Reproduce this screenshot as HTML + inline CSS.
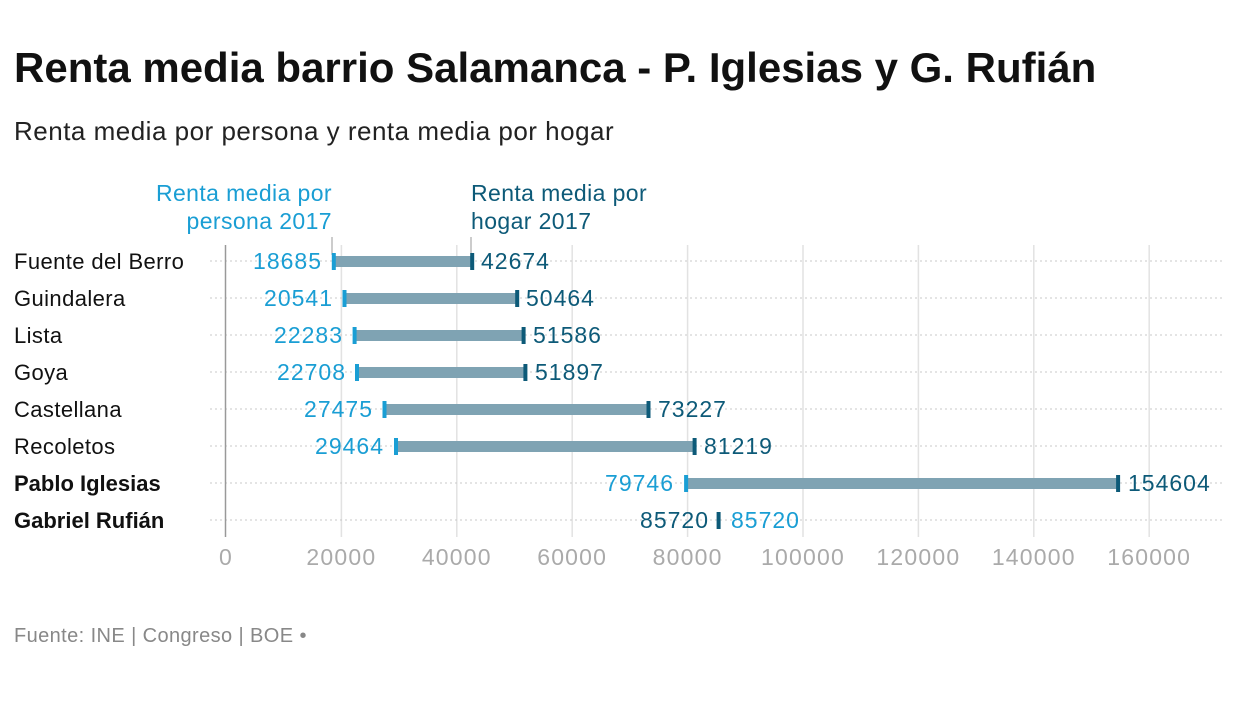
<!DOCTYPE html>
<html><head><meta charset="utf-8"><style>
body{margin:0;background:#fff;width:1248px;height:698px;overflow:hidden;font-family:"Liberation Sans",sans-serif}
</style></head><body>
<svg width="1248" height="698" xmlns="http://www.w3.org/2000/svg" font-family="Liberation Sans, sans-serif">
<text x="14" y="82" font-size="42" font-weight="bold" fill="#111">Renta media barrio Salamanca - P. Iglesias y G. Rufián</text>
<text x="14" y="140" font-size="26" fill="#222" letter-spacing="0.5">Renta media por persona y renta media por hogar</text>
<g stroke="#e2e2e2" stroke-width="1.5">
<line x1="341.4" y1="245" x2="341.4" y2="537"/><line x1="456.8" y1="245" x2="456.8" y2="537"/>
<line x1="572.2" y1="245" x2="572.2" y2="537"/><line x1="687.6" y1="245" x2="687.6" y2="537"/>
<line x1="803" y1="245" x2="803" y2="537"/><line x1="918.4" y1="245" x2="918.4" y2="537"/>
<line x1="1033.8" y1="245" x2="1033.8" y2="537"/><line x1="1149.2" y1="245" x2="1149.2" y2="537"/>
</g>
<g stroke="#c8c8c8" stroke-width="1" stroke-dasharray="2,3">
<line x1="210" y1="261" x2="1225" y2="261"/><line x1="210" y1="298" x2="1225" y2="298"/>
<line x1="210" y1="335" x2="1225" y2="335"/><line x1="210" y1="372" x2="1225" y2="372"/>
<line x1="210" y1="409" x2="1225" y2="409"/><line x1="210" y1="446" x2="1225" y2="446"/>
<line x1="210" y1="483" x2="1225" y2="483"/><line x1="210" y1="520" x2="1225" y2="520"/>
</g>
<line x1="225.5" y1="245" x2="225.5" y2="537" stroke="#999" stroke-width="1.5"/>
<line x1="332" y1="237" x2="332" y2="255" stroke="#999"/>
<line x1="471" y1="237" x2="471" y2="255" stroke="#999"/>
<g font-size="23" fill="#1a9ed4" text-anchor="end" letter-spacing="0.4">
<text x="332" y="201">Renta media por</text><text x="332" y="229">persona 2017</text></g>
<g font-size="23" fill="#0d5a78" letter-spacing="0.4"><text x="471" y="201">Renta media por</text><text x="471" y="229">hogar 2017</text></g>
<g font-size="22" fill="#111" letter-spacing="0.4">
<text x="14" y="269">Fuente del Berro</text><text x="14" y="306">Guindalera</text>
<text x="14" y="343">Lista</text><text x="14" y="380">Goya</text>
<text x="14" y="417">Castellana</text><text x="14" y="454">Recoletos</text>
<text x="14" y="491" font-weight="bold" letter-spacing="0">Pablo Iglesias</text><text x="14" y="528" font-weight="bold" letter-spacing="0">Gabriel Rufián</text>
</g>
<g fill="#7fa3b3">
<rect x="333.8" y="256" width="138.4" height="11"/><rect x="344.5" y="293" width="172.7" height="11"/>
<rect x="354.6" y="330" width="169" height="11"/><rect x="357" y="367" width="168.4" height="11"/>
<rect x="384.5" y="404" width="264" height="11"/><rect x="396" y="441" width="298.6" height="11"/>
<rect x="686.1" y="478" width="432" height="11"/>
</g>
<g fill="#1a9ed4">
<rect x="331.8" y="253" width="4" height="17"/><rect x="342.5" y="290" width="4" height="17"/>
<rect x="352.6" y="327" width="4" height="17"/><rect x="355" y="364" width="4" height="17"/>
<rect x="382.5" y="401" width="4" height="17"/><rect x="394" y="438" width="4" height="17"/>
<rect x="684.1" y="475" width="4" height="17"/>
</g>
<g fill="#0d5a78">
<rect x="470.2" y="253" width="4" height="17"/><rect x="515.2" y="290" width="4" height="17"/>
<rect x="521.6" y="327" width="4" height="17"/><rect x="523.4" y="364" width="4" height="17"/>
<rect x="646.5" y="401" width="4" height="17"/><rect x="692.6" y="438" width="4" height="17"/>
<rect x="1116.1" y="475" width="4" height="17"/><rect x="716.6" y="512" width="4" height="17"/>
</g>
<g font-size="23" fill="#1a9ed4" text-anchor="end" letter-spacing="1">
<text x="322" y="269">18685</text><text x="333" y="306">20541</text><text x="343" y="343">22283</text>
<text x="346" y="380">22708</text><text x="373" y="417">27475</text><text x="384" y="454">29464</text>
<text x="674" y="491">79746</text>
</g>
<text x="709" y="528" font-size="23" fill="#0d5a78" text-anchor="end" letter-spacing="1">85720</text>
<text x="731" y="528" font-size="23" fill="#1a9ed4" letter-spacing="1">85720</text>
<g font-size="23" fill="#0d5a78" letter-spacing="1">
<text x="481" y="269">42674</text><text x="526" y="306">50464</text><text x="533" y="343">51586</text>
<text x="535" y="380">51897</text><text x="658" y="417">73227</text><text x="704" y="454">81219</text>
<text x="1128" y="491">154604</text>
</g>
<g font-size="23" fill="#aaa" text-anchor="middle" letter-spacing="1.2">
<text x="226" y="565">0</text><text x="341.4" y="565">20000</text><text x="456.8" y="565">40000</text>
<text x="572.2" y="565">60000</text><text x="687.6" y="565">80000</text><text x="803" y="565">100000</text>
<text x="918.4" y="565">120000</text><text x="1033.8" y="565">140000</text><text x="1149.2" y="565">160000</text>
</g>
<text x="14" y="642" font-size="20" fill="#888" letter-spacing="0.4">Fuente: INE | Congreso | BOE •</text>
</svg>
</body></html>
